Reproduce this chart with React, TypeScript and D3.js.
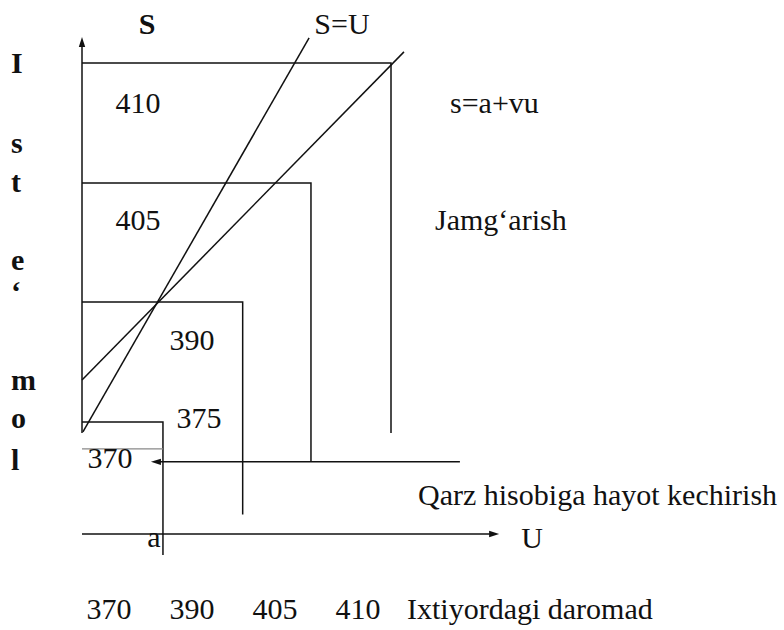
import React from 'react';
import * as d3 from 'd3';

const W = 784;
const H = 630;
const FONT = '"Liberation Serif", "Times New Roman", serif';

// Schematic units: U across, S up; the big (410) box spans 0..100 on both
const boxLabels = ['410', '405', '390', '375'];
const boxU = [100, 74.1, 52, 26.2];
const boxS = [100, 67.6, 35.4, 3];
const boxDrop = [0, -7.8, -22, -33]; // lower end of each box's right edge

const savingsLine: [number, number][] = [[0.3, 0.3], [73.5, 106.8]]; // S=U
const consumptionLine: [number, number][] = [[0, 14.3], [104.2, 103]]; // s=a+vu

const borrowLevel = -7.8;
const borrowFrom = 122.3;
const borrowTo = 22.3;
const floorLevel = -4.3; // the grey 370 line
const axisLevel = -27.3;
const axisEnd = 135;
const yAxisTop = 107;
const aLevel = 26.2;

const incomeTicks = ['370', '390', '405', '410'];
const sideWord = ['I', 's', 't', 'e', '\u2018', 'm', 'o', 'l'];

const App = () => {
    const x = d3.scaleLinear().domain([0, 100]).range([82, 391]);
    const y = d3.scaleLinear().domain([0, 100]).range([433, 63]);
    const tickX = d3.scalePoint<string>().domain(incomeTicks).range([109, 358]);
    const line = d3.line<[number, number]>().x(d => x(d[0])).y(d => y(d[1]));

    // small filled arrow head, tip at (tx,ty), pointing in direction (dx,dy)
    const head = (tx: number, ty: number, dx: number, dy: number) => {
        const len = 10, half = 3.2;
        const bx = tx - dx * len, by = ty - dy * len;
        const px = -dy * half, py = dx * half;
        return `M${tx},${ty}L${bx + px},${by + py}L${bx - px},${by - py}Z`;
    };

    const stroke = '#111';
    const sw = 1.5;

    // baselines for the vertical "Iste'mol" word (layout only)
    const sideBase = [73, 153, 192, 270, 302, 390, 428, 470];
    const boxText = [
        { t: boxLabels[0], cx: 138, by: 113 },
        { t: boxLabels[1], cx: 138, by: 230 },
        { t: boxLabels[2], cx: 192, by: 350 },
        { t: boxLabels[3], cx: 199, by: 428 },
        { t: incomeTicks[0], cx: 110, by: 468 },
    ];

    return (
        <svg width={W} height={H} viewBox={`0 0 ${W} ${H}`}
            style={{ position: 'absolute', left: 0, top: 0, background: '#fff' }}
            fontFamily={FONT} fontSize={30} fill="#111">
            <rect width={W} height={H} fill="#fff" />

            {/* nested boxes */}
            {boxLabels.map((lab, i) => (
                <path key={lab} fill="none" stroke={stroke} strokeWidth={sw}
                    d={line([[0, boxS[i]], [boxU[i], boxS[i]], [boxU[i], boxDrop[i]]]) || ''} />
            ))}

            {/* S axis */}
            <path d={line([[0, 0], [0, yAxisTop - 2.5]]) || ''} stroke={stroke} strokeWidth={sw} />
            <path d={head(x(0), y(yAxisTop), 0, -1)} fill={stroke} />

            {/* grey 370 floor */}
            <path d={line([[0, floorLevel], [boxU[3], floorLevel]]) || ''} stroke="#888" strokeWidth={1.3} />

            {/* borrowing line with arrow */}
            <path d={line([[borrowFrom, borrowLevel], [borrowTo + 2.5, borrowLevel]]) || ''} stroke={stroke} strokeWidth={sw} />
            <path d={head(x(borrowTo), y(borrowLevel), -1, 0)} fill={stroke} />

            {/* U axis */}
            <path d={line([[0, axisLevel], [axisEnd - 3, axisLevel]]) || ''} stroke={stroke} strokeWidth={sw} />
            <path d={head(x(axisEnd), y(axisLevel), 1, 0)} fill={stroke} />

            {/* S=U and consumption function */}
            <path d={line(savingsLine) || ''} fill="none" stroke={stroke} strokeWidth={sw} />
            <path d={line(consumptionLine) || ''} fill="none" stroke={stroke} strokeWidth={sw} />

            {/* labels */}
            <text x={147} y={34} textAnchor="middle" fontWeight="bold">S</text>
            <text x={342} y={34} textAnchor="middle">S=U</text>
            <text x={450} y={113}>s=a+vu</text>
            <text x={435} y={230}>Jamg{'\u2018'}arish</text>
            <text x={418} y={505}>Qarz hisobiga hayot kechirish</text>
            <text x={532} y={548} textAnchor="middle">U</text>
            <text x={x(aLevel) - 9} y={547} textAnchor="middle">a</text>

            {boxText.map(b => (
                <text key={b.t + b.by} x={b.cx} y={b.by} textAnchor="middle">{b.t}</text>
            ))}

            {sideWord.map((c, i) => (
                <text key={i} x={11} y={sideBase[i]} fontWeight="bold">{c}</text>
            ))}

            {incomeTicks.map(t => (
                <text key={t} x={tickX(t)} y={619} textAnchor="middle">{t}</text>
            ))}
            <text x={407} y={619}>Ixtiyordagi daromad</text>
        </svg>
    );
};

export default App;
